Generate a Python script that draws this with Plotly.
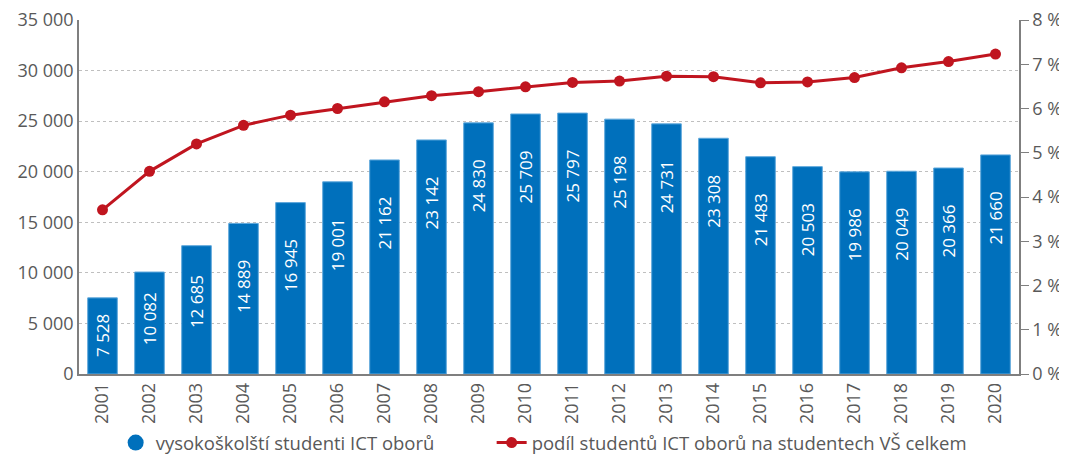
import plotly.graph_objects as go

years = [str(y) for y in range(2001, 2021)]
students = [7528, 10082, 12685, 14889, 16945, 19001, 21162, 23142, 24830, 25709,
            25797, 25198, 24731, 23308, 21483, 20503, 19986, 20049, 20366, 21660]
share = [3.71, 4.58, 5.20, 5.62, 5.85, 6.00, 6.15, 6.29, 6.38, 6.49,
         6.59, 6.62, 6.73, 6.72, 6.58, 6.60, 6.70, 6.92, 7.06, 7.23]

name_bar = "vysokoškolští studenti ICT oborů"
name_line = "podíl studentů ICT oborů na studentech VŠ celkem"

blue = "#0070BC"
red = "#C0151F"
grey = "#595959"
font = "Open Sans"
ymax = 35000
plot_h = 354

fig = go.Figure()
fig.add_trace(go.Bar(x=years, y=students, marker=dict(color=blue, line=dict(color="#5FA8DC", width=1)),
                     showlegend=False, hoverinfo="x+y"))
# legend entry with a round symbol like the original
fig.add_trace(go.Scatter(x=years[:1], y=[None], mode="markers", name=name_bar, legend="legend",
                         marker=dict(color=blue, size=19, symbol="circle")))
fig.add_trace(go.Scatter(x=years, y=share, yaxis="y2", mode="lines+markers", name=name_line,
                         legend="legend2", line=dict(color=red, width=3), marker=dict(color=red, size=11)))

# value labels inside the bars, rotated (x given as category index)
for i, v in enumerate(students):
    h = v / ymax * plot_h
    off = min(63, 0.35 * h + 11)
    fig.add_annotation(x=i, y=v, yanchor="middle", yshift=-off, text=f"{v:,}".replace(",", " "),
                       textangle=-90, showarrow=False, font=dict(family=font, size=17, color="white"))

leg = dict(orientation="h", y=-0.195, yanchor="middle", xanchor="left",
           font=dict(size=18.5, color=grey), itemsizing="trace", bgcolor="rgba(0,0,0,0)")

# page body has an 8px margin, so the figure is a bit smaller than the window
fig.update_layout(
    width=1059, height=447,
    margin=dict(l=71, r=48, t=12, b=81, autoexpand=False),
    paper_bgcolor="white", plot_bgcolor="white",
    separators=", ",
    font=dict(family=font, size=18, color=grey),
    bargap=0.37,
    legend=dict(leg, x=0.039),
    legend2=dict(leg, x=0.439),
    xaxis=dict(type="category", range=[-0.5, 19.5], tickangle=-90, showline=True, linecolor="#7F7F7F",
               linewidth=1.5, ticks="", showgrid=False, automargin=False,
               tickfont=dict(size=18, color=grey)),
    yaxis=dict(range=[0, ymax], dtick=5000, tickformat=",d", showline=True, linecolor="#7F7F7F",
               linewidth=1.5, showgrid=True, gridcolor="#BFBFBF", griddash="dot", gridwidth=1,
               zeroline=False, ticks="", automargin=False, ticklabeloverflow="allow",
               tickfont=dict(size=18, color=grey)),
    yaxis2=dict(range=[0, 8], dtick=1, ticksuffix=" %", overlaying="y", side="right", showgrid=False,
                showline=True, linecolor="#7F7F7F", linewidth=1.5, ticks="outside", ticklen=8,
                tickcolor="#7F7F7F", zeroline=False, automargin=False, ticklabeloverflow="allow",
                tickfont=dict(size=18, color=grey)),
)

fig.write_html("out.html")
